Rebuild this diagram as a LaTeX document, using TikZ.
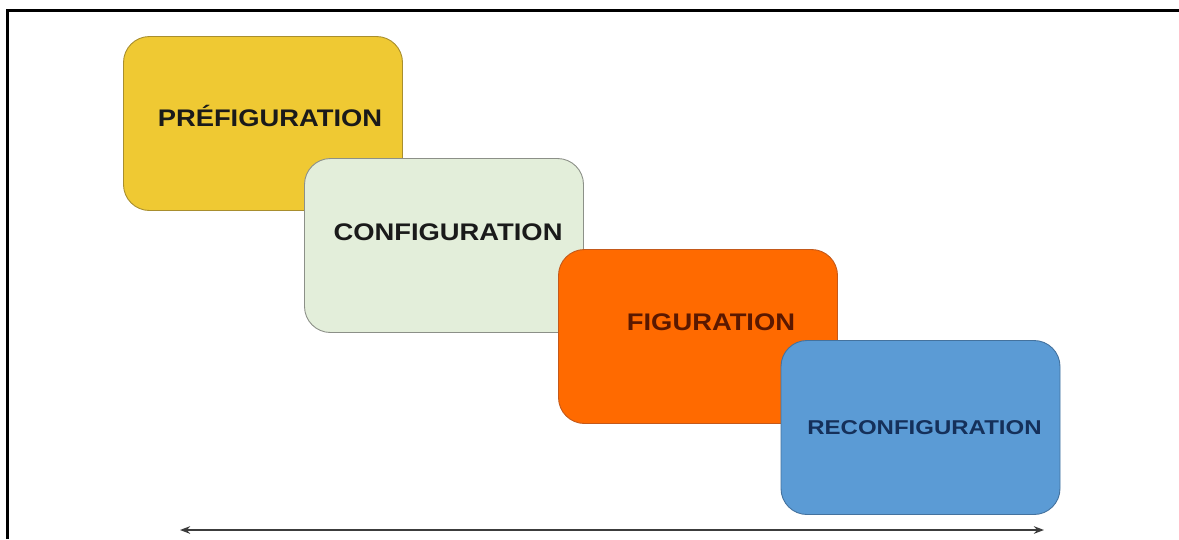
\documentclass[tikz,border=0pt]{standalone}
\usepackage{fontspec}
\setmainfont{Liberation Sans}
\usetikzlibrary{arrows.meta,positioning,calc}
\definecolor{Ink}{HTML}{1A1A1A}
\definecolor{PreFill}{HTML}{EFC933}
\definecolor{PreEdge}{HTML}{A88E2E}
\definecolor{ConfFill}{HTML}{E3EEDA}
\definecolor{ConfEdge}{HTML}{8C9088}
\definecolor{FigFill}{HTML}{FF6A00}
\definecolor{FigEdge}{HTML}{C4591A}
\definecolor{FigText}{HTML}{5A1800}
\definecolor{ReFill}{HTML}{5B9BD5}
\definecolor{ReEdge}{HTML}{44729E}
\definecolor{ReText}{HTML}{15305A}
\newcommand{\phasename}[2][1.14]{\scalebox{#1}[1]{#2}}

\begin{document}
\begin{tikzpicture}[x=1pt,y=-1pt,>=Stealth,
  phase/.style={rounded corners=26pt,minimum width=279pt,minimum height=174pt,inner sep=0pt,line width=0.9pt},
  phaselabel/.style={inner sep=0pt,font=\fontsize{24}{24}\selectfont\bfseries}]
\useasboundingbox (0,0) rectangle (1179,539);
% frame, open on the right and at the bottom
\coordinate (frameb) at (7.5,539);
\coordinate (framec) at (7.5,10.5);
\coordinate (framer) at (1179,10.5);
\draw[black,line width=3pt] (frameb) -- (framec) -- (framer);
% the four phases
\node[phase,fill=PreFill,draw=PreEdge] (pre) at (263,123.5) {};
\node[phase,fill=ConfFill,draw=ConfEdge] (conf) at (444,245.5) {};
\node[phase,fill=FigFill,draw=FigEdge] (fig) at (698,336.5) {};
\node[phase,fill=ReFill,draw=ReEdge] (reconf) at (920.5,427.5) {};
\node[phaselabel,text=Ink] (prelbl) at ($(pre.center)+(7,-7.5)$) {\phasename{PRÉFIGURATION}};
\node[phaselabel,text=Ink] (conflbl) at ($(conf.center)+(4,-13)$) {\phasename{CONFIGURATION}};
\node[phaselabel,text=FigText] (figlbl) at ($(fig.center)+(13,-14)$) {\phasename{FIGURATION}};
\node[phaselabel,text=ReText,font=\fontsize{20}{20}\selectfont\bfseries] (relbl) at ($(reconf.center)+(4,0)$) {\phasename[1.2]{RECONFIGURATION}};
% time line
\coordinate (tstart) at (180,530);
\coordinate (tend) at (1044,530);
\draw[<->,Ink!85,line width=1.6pt] (tstart) -- (tend);
\end{tikzpicture}
\end{document}
